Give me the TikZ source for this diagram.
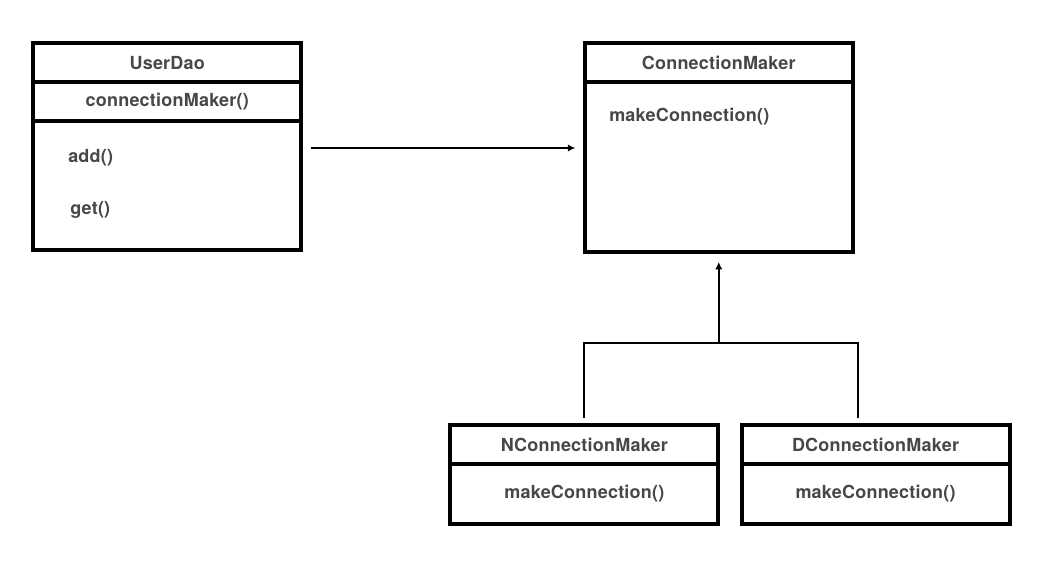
\documentclass[tikz,border=0pt]{standalone}
\usepackage{fontspec}
\usetikzlibrary{arrows.meta}
\newfontfamily\umlfont[LetterSpace=1.2]{TeX Gyre Heros}
\definecolor{textgray}{HTML}{474747}

\begin{document}
\begin{tikzpicture}[x=0.75pt, y=-0.75pt,
  umlbox/.style={draw, line width=3pt, outer sep=0pt, inner sep=0pt,
    minimum width=201pt, text=textgray,
    font=\umlfont\bfseries\fontsize{13.5}{16}\selectfont},
  umlhead/.style={umlbox, minimum height=29.25pt},
  member/.style={anchor=west, inner sep=0pt, text=textgray,
    font=\umlfont\bfseries\fontsize{13.5}{16}\selectfont},
  conn/.style={line width=1.5pt},
  tip/.style={-{Latex[length=5.5pt, width=5.5pt]}}]
  \useasboundingbox (0,0) rectangle (1063,563);

  % --- UserDao ---
  \node[umlhead, minimum height=28.9pt] (udHead) at (167.25,62.75) {UserDao};
  \node[umlbox, minimum height=29.6pt, anchor=north] (udField) at (udHead.south) {connectionMaker()};
  \node[umlbox, minimum height=96.75pt, anchor=north] (udOps) at (udField.south) {};
  \node[member] (udAdd) at (68,158) {add()};
  \node[member] (udGet) at (70,210) {get()};

  % --- ConnectionMaker ---
  \node[umlhead] (cmHead) at (718.75,62.5) {ConnectionMaker};
  \node[umlbox, minimum height=127.5pt, anchor=north] (cmBody) at (cmHead.south) {};
  \node[member] (cmOp) at (609,117) {makeConnection()};

  % --- implementations ---
  \node[umlhead] (nHead) at (584.35,444.5) {NConnectionMaker};
  \node[umlbox, minimum height=45pt, anchor=north] (nBody) at (nHead.south) {makeConnection()};
  \node[umlhead] (dHead) at (875.5,444.5) {DConnectionMaker};
  \node[umlbox, minimum height=45pt, anchor=north] (dBody) at (dHead.south) {makeConnection()};

  % --- connectors ---
  \coordinate (useTail) at (udOps.east |- 0,148);
  \coordinate (useHead) at (cmBody.west |- 0,148);
  \draw[conn, tip] ([xshift=7.5pt]useTail) -- ([xshift=-7.1pt]useHead);

  \coordinate (fork) at (cmBody.south |- 0,343);
  \draw[conn] ([yshift=5.25pt]nHead.north) |- (fork) -| ([xshift=-13.1pt, yshift=5.25pt]dHead.north);
  \draw[conn, tip] (fork) -- ([yshift=-7.5pt]cmBody.south);
\end{tikzpicture}
\end{document}
